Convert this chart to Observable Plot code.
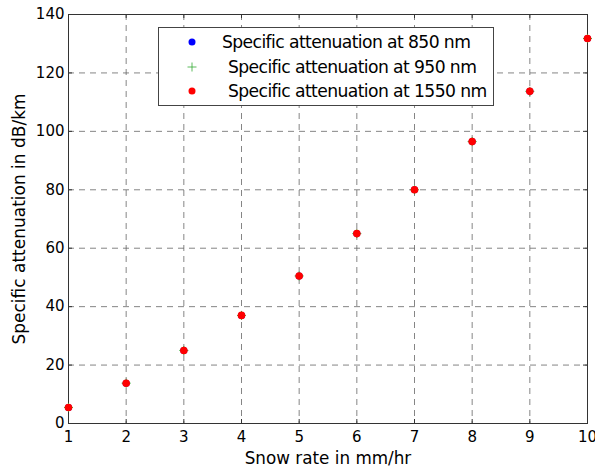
<!DOCTYPE html>
<html><head><meta charset="utf-8">
<script src="https://cdn.jsdelivr.net/npm/d3@7"></script>
<script src="https://cdn.jsdelivr.net/npm/@observablehq/plot@0.6"></script>
<style>
body{margin:0;background:#fff;}
#wrap{position:relative;width:595px;height:473px;font-family:"DejaVu Sans",sans-serif;}
#wrap svg{overflow:visible;}
#legend{position:absolute;left:158px;top:27px;width:334px;height:77px;border:1px solid #444;background:#fff;font-size:17.2px;letter-spacing:-0.6px;color:#000;}
.row{position:absolute;left:0;height:24px;line-height:24px;white-space:nowrap;}
.row svg{position:absolute;left:26px;top:5px;}
.row span{position:absolute;}
</style></head>
<body><div id="wrap"></div>
<script>
const snowRate = [1,2,3,4,5,6,7,8,9,10];
const att850  = [5.5,13.8,25,37,50.5,65,80,96.5,113.7,131.8];
const att950  = [5.5,13.8,25,37,50.5,65,80,96.5,113.7,131.8];
const att1550 = [5.5,13.8,25,37,50.5,65,80,96.5,113.7,131.8];
const xTicks = [1,2,3,4,5,6,7,8,9,10];
const yTicks = [0,20,40,60,80,100,120,140];
const seriesNames = ["Specific attenuation at 850 nm","Specific attenuation at 950 nm","Specific attenuation at 1550 nm"];

const rows = (vals) => snowRate.map((x,i)=>({x, y: vals[i]}));
const W=595,H=473, mL=68, mR=8, mT=14, mB=50;
const fw = W-mL-mR, fh = H-mT-mB;

const chart = Plot.plot({
  width: W, height: H,
  marginLeft: mL, marginRight: mR, marginTop: mT, marginBottom: mB,
  style: {fontFamily: "DejaVu Sans, sans-serif", fontSize: "15px", color: "#000", background: "#fff", overflow: "visible"},
  x: {domain: [1,10]},
  y: {domain: [0,140]},
  marks: [
    Plot.gridX(xTicks.slice(1,-1), {stroke: "#666", strokeOpacity: 0.8, strokeDasharray: "6,5", strokeWidth: 1}),
    Plot.gridY(yTicks.slice(1,-1), {stroke: "#666", strokeOpacity: 0.8, strokeDasharray: "6,5", strokeWidth: 1}),
    Plot.ruleX(xTicks, {insetTop: fh-4, stroke: "#333"}),
    Plot.ruleX(xTicks, {insetBottom: fh-4, stroke: "#333"}),
    Plot.ruleY(yTicks, {insetRight: fw-4, stroke: "#333"}),
    Plot.ruleY(yTicks, {insetLeft: fw-4, stroke: "#333"}),
    Plot.frame({stroke: "#333", strokeWidth: 1}),
    Plot.axisX(xTicks, {tickSize: 0, tickPadding: 8, label: null, fontSize: 15, letterSpacing: "-0.8px"}),
    Plot.axisY(yTicks, {tickSize: 0, tickPadding: 4, label: null, fontSize: 15, letterSpacing: "-0.8px"}),
    Plot.text(["Snow rate in mm/hr"], {frameAnchor: "bottom", dy: 40, fontSize: 16.8, letterSpacing: "-0.9px"}),
    Plot.text(["Specific attenuation in dB/km"], {frameAnchor: "left", textAnchor: "middle", dx: -49, rotate: -90, fontSize: 17, letterSpacing: "-0.9px"}),
    Plot.dot(rows(att850), {x: "x", y: "y", r: 3.5, fill: "blue", stroke: "none"}),
    Plot.dot(rows(att950), {x: "x", y: "y", symbol: "plus", r: 3.0, stroke: "#3a3", strokeWidth: 1}),
    Plot.dot(rows(att1550), {x: "x", y: "y", r: 3.8, fill: "red", stroke: "none"})
  ]
});
const wrap = document.getElementById("wrap");
wrap.appendChild(chart);

const legend = document.createElement("div");
legend.id = "legend";
const markers = [
  '<svg width="14" height="14"><circle cx="7" cy="7" r="3.5" fill="blue"/></svg>',
  '<svg width="14" height="14"><path d="M2.5,7H11.5M7,2.5V11.5" stroke="#3a3" stroke-width="0.8"/></svg>',
  '<svg width="14" height="14"><circle cx="7" cy="7" r="3.5" fill="red"/></svg>'
];
const textLeft = [63, 69, 69];
seriesNames.forEach((n,i)=>{
  const r = document.createElement("div");
  r.className = "row";
  r.style.top = (2 + i*24.5) + "px";
  r.innerHTML = markers[i] + `<span style="left:${textLeft[i]}px">${n}</span>`;
  legend.appendChild(r);
});
wrap.appendChild(legend);
</script></body></html>
